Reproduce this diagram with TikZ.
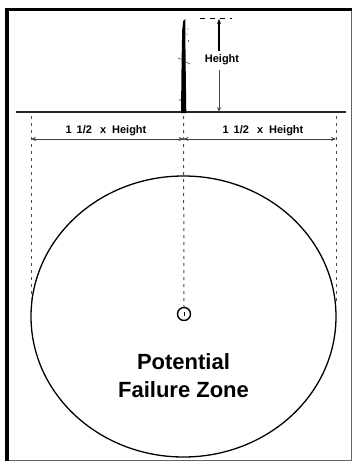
\documentclass[tikz,border=0pt]{standalone}
\usepackage{fontspec}
\setmainfont{Liberation Sans}
\usetikzlibrary{arrows.meta,shapes.geometric}
\begin{document}
\begin{tikzpicture}[x=1pt,y=-1pt,
  lbl/.style={font=\bfseries\fontsize{11}{12}\selectfont, inner sep=1pt},
  big/.style={font=\bfseries\fontsize{22}{28}\selectfont, align=center},
  guide/.style={black!70, line width=1pt, dash pattern=on 3pt off 4pt},
  dim/.style={black!75, line width=0.8pt},
  tip/.style={-{Stealth[length=5pt,width=4pt]}}]
\useasboundingbox (0,0) rectangle (354,463);
% frame
\draw[black!60, line width=1pt] (7,10) -- (351,10) -- (351,460) -- (7,460);
\draw[black, line width=3pt] (5,9.5) -- (352,9.5);
\draw[black, line width=3.5pt] (7,8) -- (7,461);
% ground
\coordinate (gl) at (16,112);
\coordinate (gr) at (346,112);
\draw[black!85, line width=2.2pt] (gl) -- (gr);
% tree
\coordinate (treetop) at (185,19);
\coordinate (treebase) at (183.5,112);
\fill[black] (181,113) -- (181.6,60) -- (182.2,30) -- (183.2,21) -- (185.5,19) -- (185.3,30) -- (185.6,60) -- (186.3,113) -- cycle;
\draw[black!70, line width=0.6pt] (178,58) -- (183,60) (186,62) -- (190,64);
\fill[black!70] (188.5,41) circle (0.9pt) (188,29) circle (0.7pt) (180,100) circle (0.8pt) (187,34) circle (0.6pt);
% height dimension
\coordinate (htop) at (219,19);
\coordinate (hbot) at (219,112);
\draw[black, line width=0.8pt, dash pattern=on 5pt off 5pt] (200,18.5) -- (232,18.5);
\node[lbl] (hlabel) at (222,60) {Height};
\draw[black, line width=1.2pt, tip] (219,51) -- (htop);
\draw[black!70, line width=0.9pt, tip] (219,70) -- (hbot);
% horizontal dimension
\coordinate (dl) at (31,139);
\coordinate (dc) at (183.5,139);
\coordinate (dr) at (336,139);
\draw[dim, tip] (dc) -- (dl);
\draw[dim, tip] (dc) -- (dr);
\draw[dim, tip] (107,139) -- (dc);
\draw[dim, tip] (260,139) -- (dc);
\node[lbl] (ltxt) at (106,131) {1\hspace{5pt}1/2\hspace{8pt}x\hspace{6pt}Height};
\node[lbl] (rtxt) at (263,131) {1\hspace{5pt}1/2\hspace{8pt}x\hspace{6pt}Height};
% failure zone
\node[draw, ellipse, minimum width=305pt, minimum height=281pt, line width=1.3pt, inner sep=0pt] (zone) at (183.5,316.5) {};
\node[draw, circle, line width=1.4pt, minimum size=13pt, inner sep=0pt] (stump) at (184,314) {};
\draw[line width=0.7pt] (184,312) -- (184,316);
% guides
\draw[guide] (31,116) -- (31,301);
\draw[guide] (336,116) -- (336,301);
\draw[guide] (183.5,116) -- (stump.north);
\node[big] (ptxt) at (183.5,376) {Potential\\Failure Zone};
\end{tikzpicture}
\end{document}
